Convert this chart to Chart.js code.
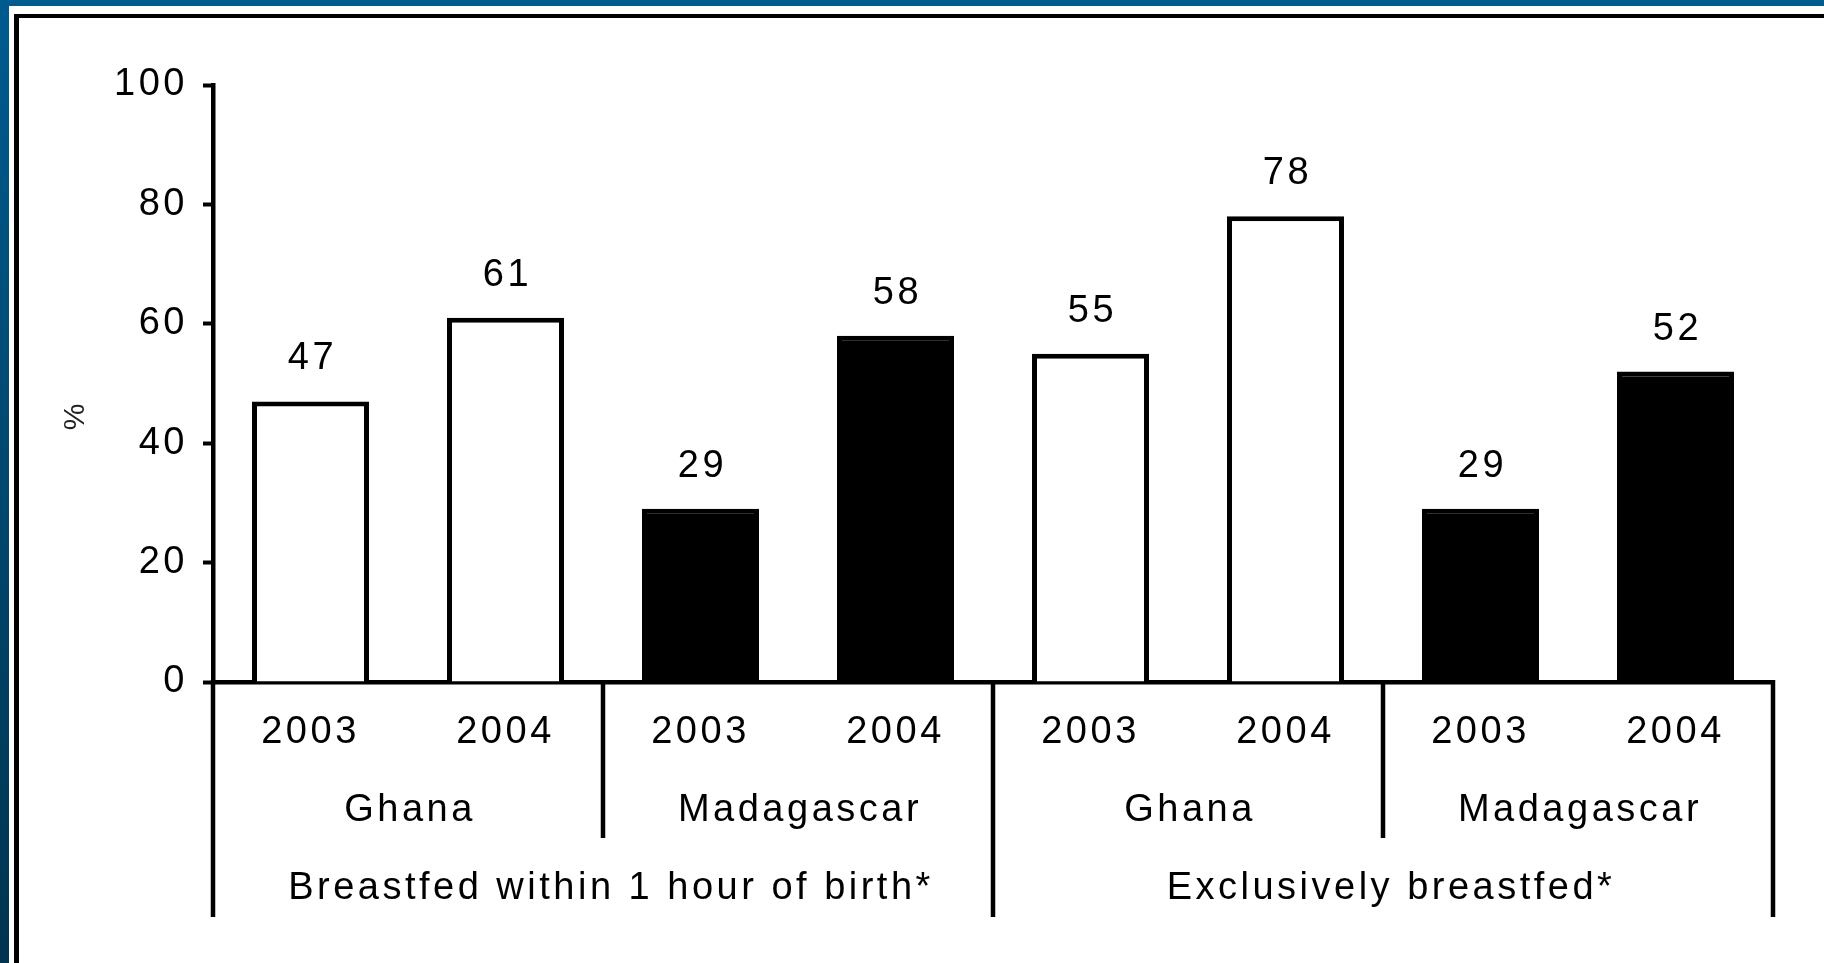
<!DOCTYPE html>
<html>
<head>
<meta charset="utf-8">
<title>Breastfeeding practices, Ghana and Madagascar</title>
<script src="https://cdn.jsdelivr.net/npm/chart.js@4.4.1/dist/chart.umd.min.js"></script>
<style>
    html, body { margin: 0; padding: 0; background: #ffffff; overflow: hidden; }
    .band-top { position: absolute; left: 0; top: 0; width: 1824px; height: 6px; background: #005b8e; }
    .band-left { position: absolute; left: 0; top: 0; width: 9px; height: 963px; background: linear-gradient(#005b8e, #00344f); }
    .rule-top { position: absolute; left: 14px; top: 14px; width: 1810px; height: 4px; background: #000; }
    .rule-left { position: absolute; left: 14px; top: 14px; width: 5px; height: 949px; background: #000; }
    .chart-box { position: absolute; left: 0; top: 0; width: 1824px; height: 963px; }
</style>
</head>
<body>
<div class="chart-box"><canvas id="chart"></canvas></div>
<div class="band-top"></div>
<div class="band-left"></div>
<div class="rule-top"></div>
<div class="rule-left"></div>

<script>
// Data
const years = ['2003', '2004', '2003', '2004', '2003', '2004', '2003', '2004'];
const countries = ['Ghana', 'Madagascar', 'Ghana', 'Madagascar'];
const indicators = ['Breastfed within 1 hour of birth*', 'Exclusively breastfed*'];
const values = [47, 61, 29, 58, 55, 78, 29, 52];
const yTicks = [0, 20, 40, 60, 80, 100];

const countryFill = { Ghana: '#ffffff', Madagascar: '#000000' };
const FONT = "'Liberation Sans', Arial, sans-serif";
const SPACING = '3.5px';

Chart.defaults.font.family = FONT;
Chart.defaults.font.size = 38;
Chart.defaults.color = '#000000';

// wide letter spacing like the original scan
const spacing = {
    id: 'spacing',
    beforeLayout(chart) { chart.ctx.letterSpacing = SPACING; },
    beforeDraw(chart) { chart.ctx.letterSpacing = SPACING; }
};

// value labels, group separators, country / indicator labels and the % title
const decorations = {
    id: 'decorations',
    afterDraw(chart) {
        const { ctx, chartArea, scales: { x } } = chart;
        const step = x.getPixelForValue(1) - x.getPixelForValue(0);
        const edge = i => x.getPixelForValue(i) - step / 2;
        const base = chartArea.bottom;

        ctx.save();
        ctx.fillStyle = '#000';
        ctx.strokeStyle = '#000';
        ctx.lineWidth = 4.5;
        ctx.font = '38px ' + FONT;
        ctx.letterSpacing = SPACING;

        // numbers above bars
        ctx.textAlign = 'center';
        ctx.textBaseline = 'alphabetic';
        chart.getDatasetMeta(0).data.forEach((bar, i) => {
            ctx.fillText(String(values[i]), bar.x + 2, bar.y - 32);
        });

        // vertical separators below the axis
        for (let b = 0; b <= years.length; b += 2) {
            const len = (b % 4 === 0) ? 235 : 156;
            ctx.beginPath();
            ctx.moveTo(edge(b), base - 2);
            ctx.lineTo(edge(b), base + len);
            ctx.stroke();
        }

        ctx.textBaseline = 'middle';
        countries.forEach((c, i) => {
            const cx = (edge(2 * i) + edge(2 * i + 2)) / 2;
            ctx.fillText(c, cx + 2, base + 129);
        });
        indicators.forEach((t, i) => {
            const cx = (edge(4 * i) + edge(4 * i + 4)) / 2;
            ctx.fillText(t, cx + 8, base + 207);
        });

        // rotated % title
        ctx.font = '30px ' + FONT;
        ctx.letterSpacing = '0px';
        ctx.fillStyle = '#222';
        ctx.translate(chartArea.left - 137, chartArea.top + 332);
        ctx.rotate(-Math.PI / 2);
        ctx.fillText('%', 0, 0);
        ctx.restore();
    }
};

document.addEventListener('DOMContentLoaded', () => {
    const ctx = document.getElementById('chart');

    new Chart(ctx, {
        type: 'bar',
        data: {
            labels: years,
            datasets: [{
                data: values,
                backgroundColor: values.map((v, i) => countryFill[countries[Math.floor(i / 2)]]),
                borderColor: '#000000',
                borderWidth: 5,
                borderSkipped: 'bottom',
                categoryPercentage: 1,
                barPercentage: 0.6
            }]
        },
        plugins: [spacing, decorations],
        options: {
            responsive: true,
            maintainAspectRatio: false,
            animation: false,
            devicePixelRatio: 1,
            layout: {
                padding: { left: 0, top: 85, right: 51, bottom: 0 }
            },
            plugins: {
                legend: { display: false },
                tooltip: { enabled: false }
            },
            scales: {
                x: {
                    grid: { display: false, drawTicks: false },
                    border: { display: true, color: '#000', width: 4.5 },
                    ticks: { padding: 28, maxRotation: 0, autoSkip: false },
                    afterFit(scale) { scale.height = 281; }
                },
                y: {
                    min: 0,
                    max: 100,
                    afterBuildTicks(scale) { scale.ticks = yTicks.map(v => ({ value: v })); },
                    grid: {
                        drawOnChartArea: false,
                        drawTicks: true,
                        tickLength: 10,
                        tickWidth: 4,
                        tickColor: '#000'
                    },
                    border: { display: true, color: '#000', width: 4.5 },
                    ticks: { padding: 15 },
                    afterFit(scale) { scale.width = 213; }
                }
            }
        }
    });
});
</script>
</body>
</html>
